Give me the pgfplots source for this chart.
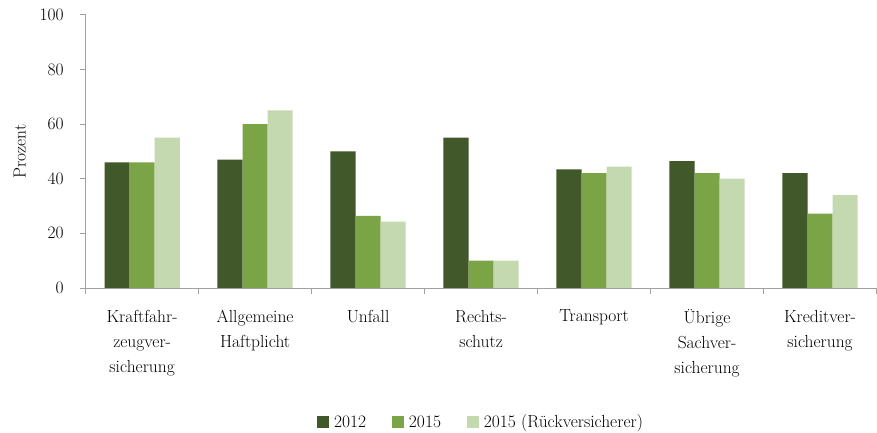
\documentclass[border={8pt 0pt 0pt 3pt}]{standalone}
\usepackage{fontspec}
\setmainfont{Latin Modern Roman}
\usepackage{pgfplots}
\pgfplotsset{compat=1.18}
\definecolor{cA}{HTML}{41582A}
\definecolor{cB}{HTML}{7BA446}
\definecolor{cC}{HTML}{C4D9AF}
\definecolor{axgray}{HTML}{A0A0A0}
\newcommand{\ff}{\fontsize{17.5}{25}\selectfont}
\begin{document}
\ff
\begin{tikzpicture}
\begin{axis}[
  scale only axis,
  width=793pt, height=274pt,
  ybar=0pt, bar width=0.222,
  xmin=-0.5, xmax=6.5,
  ymin=0, ymax=100,
  ytick={0,20,...,100},
  xtick={0,...,6},
  xticklabels={{Kraftfahr-\\zeugver-\\sicherung},{Allgemeine\\Haftplicht},{Unfall},{Rechts-\\schutz},{Transport},{Übrige\\Sachver-\\sicherung},{Kreditver-\\sicherung}},
  minor xtick={-0.5,0.5,...,6.5},
  major x tick style={draw=none},
  minor x tick style={draw=axgray, line width=0.8pt},
  y tick style={draw=axgray, line width=0.8pt},
  minor tick length=6pt, major tick length=6pt,
  tick align=outside,
  axis x line*=bottom, axis y line*=left,
  axis line style={draw=axgray, line width=0.9pt, -},
  /pgf/number format/assume math mode=true,
  xticklabel style={align=center, anchor=north, yshift=-10pt, font=\ff},
  yticklabel style={font=\ff, xshift=-10pt},
  ylabel={Prozent},
  ylabel style={font=\ff, at={(axis description cs:-0.0832,0.5)}, anchor=center},
  legend style={at={(0.5,-0.493)}, anchor=center, draw=none, legend columns=-1,
    font=\ff, inner sep=0pt, outer sep=0pt,
    /tikz/every even column/.append style={column sep=24pt}},
  legend image code/.code={\fill[#1] (0pt,-5pt) rectangle (12pt,7pt);},
]
\addplot[fill=cA, draw=none] coordinates {(0,46) (1,47) (2,50) (3,55) (4,43.4) (5,46.4) (6,42)};
\addplot[fill=cB, draw=none] coordinates {(0,46) (1,60) (2,26.4) (3,10) (4,42) (5,42) (6,27.2)};
\addplot[fill=cC, draw=none] coordinates {(0,55) (1,65) (2,24.3) (3,10) (4,44.4) (5,40) (6,34)};
\legend{\,2012,\,2015,\,2015 (Rückversicherer)}
\end{axis}
\end{tikzpicture}
\end{document}
